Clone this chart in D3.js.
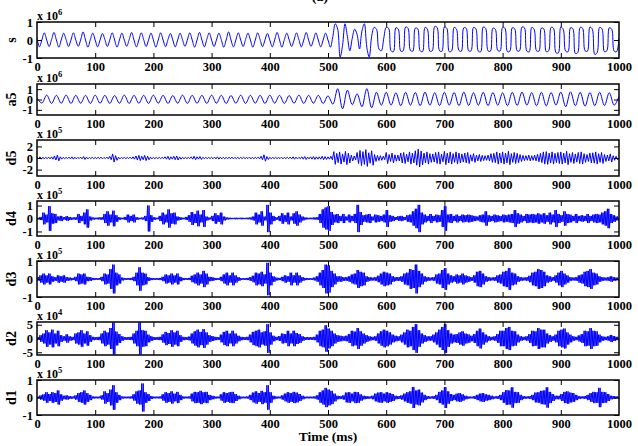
<!DOCTYPE html>
<html>
<head>
<meta charset="utf-8">
<script src="https://cdn.jsdelivr.net/npm/d3@7"></script>
<style>
	body { margin: 0; background: #fff; }
	svg { display: block; }
</style>
</head>
<body>
<div id="chart"></div>
<script>
'use strict';

// ---- data ----
var timeTicks = [0, 100, 200, 300, 400, 500, 600, 700, 800, 900, 1000];
var panelNames = ["s", "a5", "d5", "d4", "d3", "d2", "d1"];
var panelExponents = [6, 6, 5, 5, 5, 4, 5];
var panelYTicks = [[-1, 0, 1], [-1, 0, 1], [-2, 0, 2], [-1, 0, 1], [-1, 0, 1], [-5, 0, 5], [-1, 0, 1]];
var panelYLimits = [[-1, 1], [-1.5, 1.5], [-3.1, 3.1], [-1.35, 1.35], [-1, 1], [-6, 6], [-1, 1]];

// s (x 10^6), one value every quarter cycle of the 60 Hz wave
var sStep = 1000 / 240;
var sValues = [
	.1,-.38,0,.4, 0,-.36,.02,.42, 0,-.4,0,.38, .02,-.36,0,.4, 0,-.35,0,.45,
	0,-.4,.02,.38, 0,-.38,0,.36, .02,-.36,0,.4, 0,-.4,0,.38, 0,-.35,.02,.42,
	0,-.38,0,.4, .02,-.36,0,.38, 0,-.4,0,.4, 0,-.37,.02,.36, 0,-.38,0,.38,
	.02,-.35,0,.4, 0,-.4,0,.42, 0,-.38,.02,.4, 0,-.36,0,.38, .02,-.4,0,.45,
	0,-.38,0,.4, 0,-.36,.02,.38, 0,-.4,0,.4, .02,-.37,0,.36, 0,-.38,0,.42,
	0,-.4,.02,.38, 0,-.36,0,.4, .02,-.38,0,.42, 0,-.35,0,.4, 0,-.38,0,.38,
	0,-.4,.2,.9, .6,-.95,-.3,.9, .2,-.6,.1,.6, .3,-.5,.5,.9, -.4,-.95,.2,.7, .6,-.5,-.6,.1,
	.7,.65,-.6,-.65, .68,.6,-.62,-.6, .72,.65,-.58,-.62, .66,.62,-.6,-.65, .7,.6,-.62,-.6,
	.75,.7,-.6,-.62, .72,.65,-.65,-.6, .7,.6,-.58,-.62, .68,.65,-.6,-.6, .7,.62,-.62,-.65,
	.72,.65,-.6,-.62, .66,.6,-.58,-.6, .7,.65,-.65,-.62, .68,.62,-.6,-.6, .72,.68,-.62,-.65,
	.7,.6,-.6,-.62, .66,.62,-.65,-.6, .7,.65,-.7,-.72, .72,.6,-.62,-.65, .68,.62,-.75,-.7,
	.7,.65,-.6,-.62, .72,.6,-.8,-.7, .7,.62,-.65,-.6, .68,.6,-.62,-.65,
	.1
];

// a5 (x 10^6), one extreme every half cycle
var a5Step = 1000 / 120;
var a5Values = [
	.15,-.35,.42,-.38,.4,-.36,.42,-.38,.4,-.36,
	.4,-.38,.42,-.36,.4,-.38,.38,-.36,.42,-.38,
	.4,-.36,.4,-.38,.42,-.36,.4,-.38,.38,-.36,
	.42,-.38,.4,-.36,.4,-.38,.42,-.36,.4,-.38,
	.38,-.36,.42,-.38,.4,-.36,.4,-.38,.42,-.36,
	.4,-.38,.38,-.36,.42,-.38,.4,-.36,.4,-.38,
	.35,-.45,1.05,-.9,.9,-.5,.55,-.7,1.05,-.8,.7,-.55,.7,
	-.55,.65,-.6,.7,-.55,.68,-.6,.72,-.55,.65,
	-.58,.7,-.55,.68,-.6,.72,-.58,.65,-.55,.7,
	-.6,.68,-.55,.65,-.6,.7,-.58,.72,-.55,.66,
	-.6,.7,-.62,.68,-.55,.72,-.7,.75,-.6,.7,
	-.65,.68,-.6,.7,-.58,.65,-.55,.3
];

// detail levels: swing amplitude in each 5 ms bin
var binWidth = 5;
var d5Env = [
	.15,.2,.15,.12,.15,.2,.35,.5,.2,.12,.1,.15,.2,.15,.1,.15,.25,.15,.1,.12,
	.1,.12,.15,.1,.15,.3,.7,.4,.15,.1,.12,.1,.15,.2,.35,.45,.3,.45,.3,.15,
	.12,.1,.1,.12,.2,.3,.2,.3,.35,.2,.12,.1,.1,.2,.3,.2,.25,.12,.1,.1,
	.12,.15,.2,.15,.12,.1,.12,.15,.1,.12,.1,.12,.1,.15,.12,.1,.15,.3,.55,.25,
	.12,.1,.12,.1,.15,.1,.12,.15,.2,.15,.12,.2,.25,.15,.2,.25,.2,.2,.3,.25,
	.2,.3,1.1,.8,1.05,.7,1.15,.85,.5,.35,.95,1.3,1.1,1.45,.9,1.25,.6,.45,.4,.3,
	.95,.6,.85,.55,.5,.85,.95,.65,1.05,.85,1.25,1.55,1.2,.85,1.05,.75,.7,.95,1.05,.65,
	1.15,.85,1.05,.75,1.05,.85,.7,.85,.95,.55,.75,.5,.6,.45,.4,.5,.75,.8,1.05,.85,
	1.05,.85,1.15,.75,.95,.8,.6,.45,.4,.5,.4,.5,.65,.8,1.05,1.1,.85,1.05,.8,.95,
	1.05,.85,1.15,.75,.95,.7,.95,1.05,.75,.6,.85,.9,1.05,.75,.95,.6,.5,.7,.4,.3
];
var d4Env = [
	.05,.12,.45,.3,.95,.4,.35,.15,.2,.1,.18,.12,.08,.1,.35,.2,.45,.7,.15,.08,
	.06,.08,.1,.35,.55,.3,.6,.25,.1,.06,.12,.3,.2,.3,.1,.06,.08,.2,1,.25,
	.1,.06,.2,.45,.3,.7,.4,.45,.15,.1,.06,.12,.25,.5,.35,.6,.3,.65,.15,.08,
	.2,.4,.25,.45,.15,.08,.06,.05,.06,.05,.06,.05,.06,.08,.15,.45,.3,.55,.15,1.05,
	.45,.2,.1,.2,.4,.25,.45,.15,.4,.55,.3,.15,.08,.06,.06,.08,.1,.35,.7,.85,
	.95,.5,.3,.35,.2,.35,.15,.3,.2,.35,1.05,.5,.25,.3,.35,.15,.3,.25,.2,.3,
	.65,.25,.2,.12,.18,.2,.12,.25,.3,.55,.75,1.05,.45,.3,.2,.35,.2,.3,.25,.65,
	.95,.3,.35,.2,.3,.2,.3,.25,.3,.25,.2,.15,.25,.3,.55,.25,.2,.3,.25,.2,
	.3,.25,.3,.35,.65,.4,.3,.2,.35,.3,.35,.3,.4,.3,.4,.25,.45,.3,.65,.35,
	.25,.55,.35,.3,.2,.35,.2,.25,.2,.35,.2,.3,.35,.3,.45,.55,.75,.35,.25,.15
];
var d3Env = [
	.1,.2,.3,.2,.3,.15,.1,.2,.15,.2,.1,.08,.06,.12,.3,.25,.3,.12,.1,.06,
	.05,.05,.12,.3,.25,.55,.8,.35,.25,.08,.05,.05,.06,.12,.35,.65,.35,.3,.1,.06,
	.05,.05,.06,.12,.25,.2,.3,.2,.3,.12,.06,.05,.06,.18,.25,.35,.25,.45,.3,.12,
	.1,.06,.05,.12,.25,.35,.2,.35,.2,.1,.05,.05,.06,.1,.18,.35,.3,.4,.25,.9,
	.35,.15,.08,.06,.12,.2,.15,.35,.2,.35,.2,.1,.06,.05,.05,.08,.15,.35,.5,.8,
	.75,.45,.3,.15,.15,.1,.1,.15,.25,.3,.5,.4,.35,.15,.1,.08,.1,.18,.3,.4,
	.35,.3,.15,.1,.1,.15,.3,.35,.55,.5,.8,.45,.3,.15,.1,.08,.1,.25,.3,.5,
	.6,.3,.2,.15,.25,.2,.3,.2,.15,.1,.2,.4,.45,.3,.15,.1,.08,.1,.2,.25,
	.4,.45,.6,.35,.3,.15,.1,.08,.1,.18,.35,.4,.55,.5,.4,.2,.15,.1,.2,.35,
	.45,.3,.2,.1,.08,.1,.2,.25,.4,.45,.55,.35,.3,.15,.1,.08,.1,.15,.1,.08
];
var d2Env = [
	.5,1.2,1.8,3,2.2,3.2,1.8,2.8,1.2,.8,1.5,.8,.6,1.8,2.2,3,1.8,2.6,1.2,.6,
	.5,.6,1.8,2.8,2.2,3.8,5.8,2.5,1.6,.8,.5,.5,.6,1.8,2.8,5.8,3,2.8,1.4,.8,
	.5,.5,.6,1.5,2.4,2,3,2.2,2.8,1.2,.6,.5,.7,1.8,2.6,3.2,2.4,3.4,2.2,1.2,
	.9,.6,.5,1.4,2.4,2.8,1.8,2.8,1.8,1,.6,.5,.6,1.4,2.4,2.8,3.2,2.2,2.6,5.2,
	2.2,1,.6,.9,1.8,1.6,2.8,1.8,2.8,2,1.6,.8,.5,.5,.5,.6,1.4,2.8,3.2,4.8,
	3.6,2.8,1.8,1.2,1,.8,1,1.6,2.8,2.5,3.8,2.6,1.8,1.2,.8,.6,.8,1.8,2.6,3.2,
	2.8,2.2,1.4,1,.8,1.4,2.2,3.2,2.8,4.2,5.2,3,1.8,1.2,.8,.8,1.4,2.2,3.2,4.2,
	5.2,3,1.8,1.4,1.6,2.2,2.6,1.8,1.5,1,1.6,2.8,3.6,2.2,1.4,.8,.6,.8,1.6,2.8,
	2.8,3.8,4.2,2.8,2.6,1.4,.8,.6,.8,1.6,2.8,2.6,3.8,3.2,3.2,1.8,1.2,.8,1.4,2.8,
	3.2,3.6,2.2,1.4,.8,.6,1.1,1.6,2.8,2.6,3.8,2.8,2.6,1.4,.8,.6,.8,1.3,.9,.6
];
var d1Env = [
	.05,.12,.18,.3,.2,.3,.25,.4,.18,.1,.12,.08,.06,.12,.25,.3,.4,.25,.15,.06,
	.05,.05,.12,.35,.25,.45,.7,.3,.15,.06,.05,.05,.06,.18,.35,.4,.8,.3,.2,.08,
	.05,.05,.06,.18,.3,.25,.35,.22,.32,.15,.06,.05,.06,.22,.32,.3,.38,.3,.32,.15,
	.1,.06,.05,.18,.3,.25,.3,.32,.2,.1,.05,.05,.06,.15,.28,.35,.25,.38,.3,.7,
	.3,.1,.06,.05,.12,.22,.3,.25,.32,.28,.2,.1,.05,.05,.05,.06,.12,.3,.4,.55,
	.45,.38,.22,.1,.08,.12,.28,.3,.22,.32,.3,.18,.1,.08,.06,.1,.22,.28,.3,.22,
	.3,.25,.2,.1,.08,.12,.22,.3,.35,.6,.4,.45,.28,.15,.08,.06,.08,.15,.32,.4,
	.6,.35,.2,.15,.22,.25,.18,.1,.06,.05,.08,.15,.22,.25,.18,.15,.1,.06,.08,.15,
	.3,.42,.4,.58,.32,.3,.15,.08,.06,.08,.15,.28,.3,.38,.4,.58,.32,.2,.1,.1,
	.2,.32,.35,.28,.25,.15,.08,.06,.08,.15,.25,.32,.3,.55,.32,.3,.2,.1,.08,.06
];

// ---- layout ----
var width = 638, height = 446;
var plotLeft = 37, plotRight = 619;
var panelTops = [22, 84, 140, 201, 261, 322, 380];
var panelBottoms = [58, 115, 176, 236, 297, 355, 415];
var fontFamily = "'Liberation Serif', 'Times New Roman', serif";

function sampled(values, step) {
	return values.map(function(v, i) { return [i * step, v]; });
}

// swing up and down inside each bin, n times per bin
function zigzag(env, n) {
	var pts = [];
	env.forEach(function(a, i) {
		for (var j = 0; j < n; j++)
			pts.push([i * binWidth + j * binWidth / n, j % 2 ? -a : a]);
	});
	pts.push([1000, 0]);
	return pts;
}

var series = [
	{ points: sampled(sValues, sStep), curve: d3.curveCatmullRom },
	{ points: sampled(a5Values, a5Step), curve: d3.curveCatmullRom },
	{ points: zigzag(d5Env, 2), curve: d3.curveLinear },
	{ points: zigzag(d4Env, 4), curve: d3.curveLinear },
	{ points: zigzag(d3Env, 4), curve: d3.curveLinear },
	{ points: zigzag(d2Env, 4), curve: d3.curveLinear },
	{ points: zigzag(d1Env, 4), curve: d3.curveLinear }
];

var svg = d3.select("#chart").append("svg")
	.attr("width", width)
	.attr("height", height)
	.attr("font-family", fontFamily)
	.attr("font-weight", "bold");

svg.append("rect").attr("width", width).attr("height", height).attr("fill", "#fff");

var x = d3.scaleLinear().domain([0, 1000]).range([plotLeft, plotRight]);
var plainNumber = function(d) { return String(d); };

// title, mostly cut off at the top edge
svg.append("text")
	.attr("x", 320).attr("y", 1)
	.attr("text-anchor", "middle")
	.attr("font-size", 14)
	.text("(a)");

function styleAxis(g) {
	g.attr("font-family", fontFamily)
		.attr("font-size", 12.5)
		.attr("font-weight", "bold");
	g.select(".domain").remove();
	g.selectAll(".tick line").attr("stroke", "#000").attr("stroke-width", 1);
	g.selectAll(".tick text").attr("fill", "#000");
}

panelNames.forEach(function(name, p) {
	var top = panelTops[p], bottom = panelBottoms[p];
	var y = d3.scaleLinear().domain(panelYLimits[p]).range([bottom, top]);
	var g = svg.append("g");

	g.append("clipPath").attr("id", "clip" + p)
		.append("rect")
		.attr("x", plotLeft).attr("y", top)
		.attr("width", plotRight - plotLeft).attr("height", bottom - top);

	var line = d3.line()
		.x(function(d) { return x(d[0]); })
		.y(function(d) { return y(d[1]); })
		.curve(series[p].curve);

	g.append("path")
		.datum(series[p].points)
		.attr("clip-path", "url(#clip" + p + ")")
		.attr("fill", "none")
		.attr("stroke", "#0000ff")
		.attr("stroke-width", 1)
		.attr("stroke-linejoin", "round")
		.attr("d", line);

	// ticks point inward on all four sides
	var innerX = timeTicks.slice(1, -1);
	g.append("g").attr("transform", "translate(0," + bottom + ")")
		.call(d3.axisBottom(x).tickValues(timeTicks).tickFormat(plainNumber)
			.tickSizeInner(-5).tickSizeOuter(0).tickPadding(4))
		.call(styleAxis)
		.selectAll(".tick line").filter(function(d) { return innerX.indexOf(d) < 0; }).remove();
	g.append("g").attr("transform", "translate(0," + top + ")")
		.call(d3.axisTop(x).tickValues(innerX).tickSizeInner(-5).tickSizeOuter(0).tickFormat(""))
		.call(styleAxis);
	g.append("g").attr("transform", "translate(" + plotLeft + ",0)")
		.call(d3.axisLeft(y).tickValues(panelYTicks[p]).tickFormat(plainNumber)
			.tickSizeInner(-5).tickSizeOuter(0).tickPadding(4))
		.call(styleAxis);
	g.append("g").attr("transform", "translate(" + plotRight + ",0)")
		.call(d3.axisRight(y).tickValues(panelYTicks[p]).tickSizeInner(-5).tickSizeOuter(0).tickFormat(""))
		.call(styleAxis);

	g.append("rect")
		.attr("x", plotLeft).attr("y", top)
		.attr("width", plotRight - plotLeft).attr("height", bottom - top)
		.attr("fill", "none")
		.attr("stroke", "#000")
		.attr("stroke-width", 1.5);

	// y label
	g.append("text")
		.attr("transform", "translate(16," + ((top + bottom) / 2) + ") rotate(-90)")
		.attr("text-anchor", "middle")
		.attr("font-size", 14)
		.text(name);

	// scale factor above the box
	var ex = g.append("text")
		.attr("x", plotLeft).attr("y", top - 2)
		.attr("font-size", 12);
	ex.append("tspan").text("x 10");
	ex.append("tspan").attr("dy", -5.5).attr("font-size", 8.5).text(panelExponents[p]);
});

svg.append("text")
	.attr("x", (plotLeft + plotRight) / 2).attr("y", 441)
	.attr("text-anchor", "middle")
	.attr("font-size", 13.5)
	.text("Time (ms)");
</script>
</body>
</html>
